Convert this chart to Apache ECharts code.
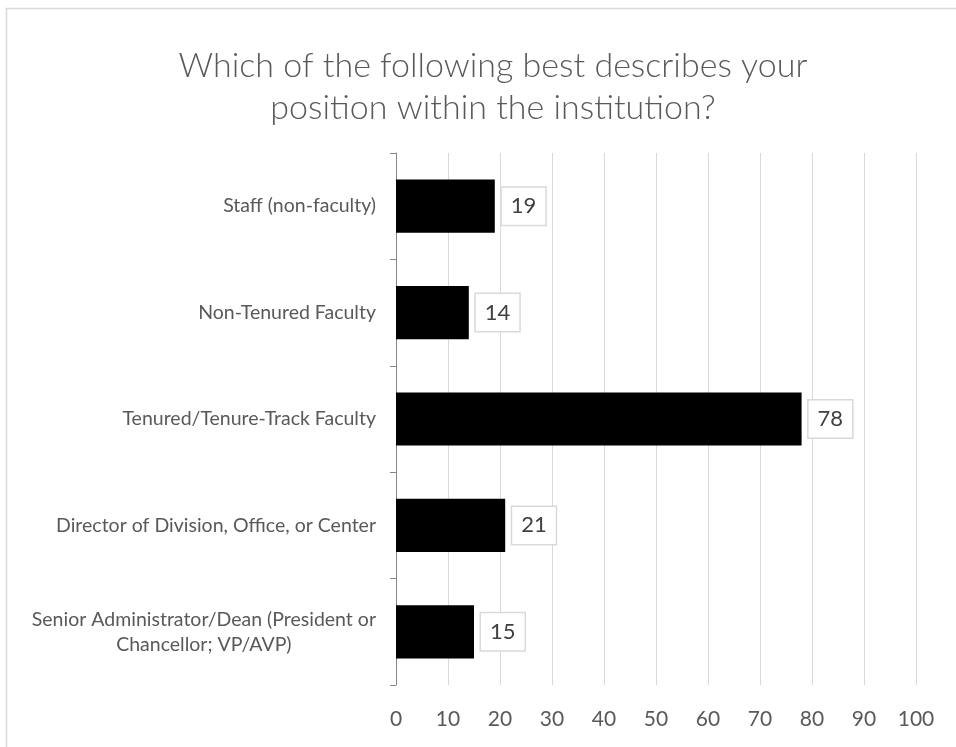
<!DOCTYPE html>
<html>
<head>
<meta charset="utf-8">
<script src="https://cdn.jsdelivr.net/npm/echarts@6/dist/echarts.min.js"></script>
<style>
  html, body { margin: 0; padding: 0; background: #fff; }
  #main { width: 956px; height: 747px; }
</style>
</head>
<body>
<div id="main"></div>
<script>
// categories top to bottom
var categories = [
  "Staff (non-faculty)",
  "Non-Tenured Faculty",
  "Tenured/Tenure-Track Faculty",
  "Director of Division, Office, or Center",
  "Senior Administrator/Dean (President or\nChancellor; VP/AVP)"
];
var counts = [19, 14, 78, 21, 15];
var xTicks = [0, 10, 20, 30, 40, 50, 60, 70, 80, 90, 100];

var FONT = "Lato";
var myChart = echarts.init(document.getElementById("main"));

var option = {
  backgroundColor: "#fff",
  animation: false,
  title: {
    text: "Which of the following best describes your\nposition within the institution?",
    left: 488,
    top: 40,
    textAlign: "center",
    textStyle: {
      fontFamily: FONT,
      fontWeight: 300,
      fontSize: 34,
      lineHeight: 42,
      color: "#595959"
    }
  },
  // outer chart border
  graphic: [
    {
      type: "rect",
      shape: { x: 6.5, y: 8.5, width: 1200, height: 1200 },
      style: { fill: "none", stroke: "#d9d9d9", lineWidth: 1.5 },
      silent: true
    }
  ],
  grid: {
    left: 396,
    right: 40,
    top: 153,
    bottom: 62,
    containLabel: false
  },
  xAxis: {
    type: "value",
    min: xTicks[0],
    max: xTicks[xTicks.length - 1],
    interval: 10,
    axisLine: { show: false },
    axisTick: { show: false },
    splitLine: { lineStyle: { color: "#d9d9d9", width: 1 } },
    axisLabel: {
      margin: 24,
      fontFamily: FONT,
      fontSize: 21,
      color: "#595959"
    }
  },
  yAxis: {
    type: "category",
    inverse: true,
    data: categories,
    axisLine: { lineStyle: { color: "#868686", width: 1 } },
    axisTick: { show: true, length: 6, lineStyle: { color: "#868686", width: 1 } },
    axisLabel: {
      margin: 20,
      fontFamily: FONT,
      fontSize: 19.5,
      color: "#595959",
      formatter: function (v) {
        return v.split("\n").map(function (s) { return "{c|" + s + "}"; }).join("\n");
      },
      rich: {
        c: {
          align: "center",
          fontFamily: FONT,
          fontSize: 19.5,
          lineHeight: 25,
          color: "#595959"
        }
      }
    }
  },
  series: [
    {
      type: "bar",
      data: counts,
      barCategoryGap: "50%",
      itemStyle: { color: "#000" },
      label: {
        show: true,
        position: "right",
        distance: 7,
        fontFamily: FONT,
        fontSize: 22,
        color: "#404040",
        backgroundColor: "#fff",
        borderColor: "#d9d9d9",
        borderWidth: 1.5,
        padding: [8, 9, 7, 9]
      }
    }
  ]
};

myChart.setOption(option);
</script>
</body>
</html>
